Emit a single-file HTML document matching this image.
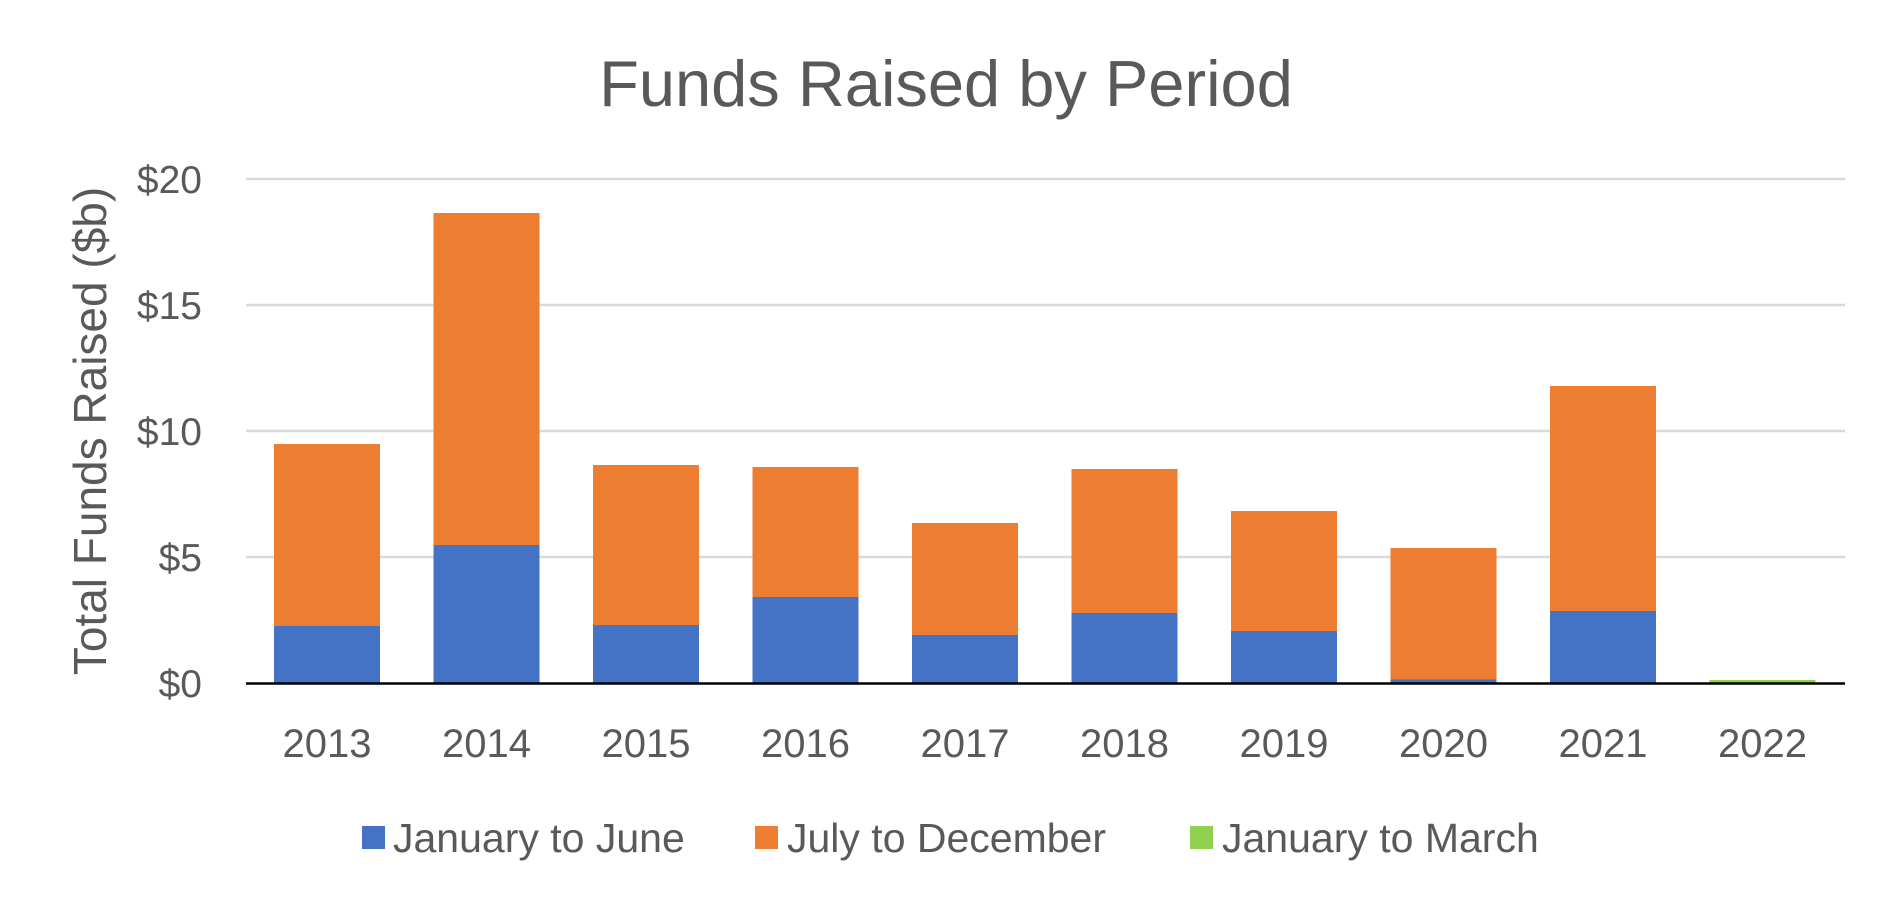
<!DOCTYPE html>
<html><head><meta charset="utf-8"><style>
html,body{margin:0;padding:0;background:#fff;}
svg{display:block;font-family:"Liberation Sans",sans-serif;}
</style></head><body>
<svg width="1902" height="916" viewBox="0 0 1902 916" xmlns="http://www.w3.org/2000/svg">
<rect width="1902" height="916" fill="#fff"/>
<text x="946" y="106" font-size="65" fill="#595959" text-anchor="middle">Funds Raised by Period</text>
<g stroke="#d9d9d9" stroke-width="2.5">
<line x1="246" y1="179" x2="1845" y2="179"/>
<line x1="246" y1="305" x2="1845" y2="305"/>
<line x1="246" y1="431" x2="1845" y2="431"/>
<line x1="246" y1="557" x2="1845" y2="557"/>
</g>
<g font-size="39" fill="#595959" text-anchor="end">
<text x="202" y="193">$20</text>
<text x="202" y="319">$15</text>
<text x="202" y="445">$10</text>
<text x="202" y="571">$5</text>
<text x="202" y="697">$0</text>
</g>
<text transform="translate(106,431) rotate(-90)" font-size="46" fill="#595959" text-anchor="middle">Total Funds Raised ($b)</text>
<g>
<rect x="274" y="444" width="106" height="239" fill="#ed7d31"/><rect x="274" y="626" width="106" height="57" fill="#4472c4"/>
<rect x="433.5" y="213" width="106" height="470" fill="#ed7d31"/><rect x="433.5" y="545" width="106" height="138" fill="#4472c4"/>
<rect x="593" y="465" width="106" height="218" fill="#ed7d31"/><rect x="593" y="625" width="106" height="58" fill="#4472c4"/>
<rect x="752.5" y="467" width="106" height="216" fill="#ed7d31"/><rect x="752.5" y="597" width="106" height="86" fill="#4472c4"/>
<rect x="912" y="523" width="106" height="160" fill="#ed7d31"/><rect x="912" y="635" width="106" height="48" fill="#4472c4"/>
<rect x="1071.5" y="469" width="106" height="214" fill="#ed7d31"/><rect x="1071.5" y="613" width="106" height="70" fill="#4472c4"/>
<rect x="1231" y="511" width="106" height="172" fill="#ed7d31"/><rect x="1231" y="631" width="106" height="52" fill="#4472c4"/>
<rect x="1390.5" y="548" width="106" height="135" fill="#ed7d31"/><rect x="1390.5" y="679.5" width="106" height="3.5" fill="#4472c4"/>
<rect x="1550" y="386" width="106" height="297" fill="#ed7d31"/><rect x="1550" y="611" width="106" height="72" fill="#4472c4"/>
<rect x="1709.5" y="680" width="106" height="3" fill="#92d050"/>
</g>
<line x1="246" y1="683.5" x2="1845" y2="683.5" stroke="#000" stroke-width="2.5"/>
<g font-size="40" fill="#595959" text-anchor="middle">
<text x="327" y="757">2013</text><text x="486.5" y="757">2014</text><text x="646" y="757">2015</text>
<text x="805.5" y="757">2016</text><text x="965" y="757">2017</text><text x="1124.5" y="757">2018</text>
<text x="1284" y="757">2019</text><text x="1443.5" y="757">2020</text><text x="1603" y="757">2021</text>
<text x="1762.5" y="757">2022</text>
</g>
<g font-size="41" fill="#595959">
<rect x="362" y="826" width="23" height="23" fill="#4472c4"/><text x="393" y="852">January to June</text>
<rect x="755" y="826" width="23" height="23" fill="#ed7d31"/><text x="787" y="852">July to December</text>
<rect x="1190" y="826" width="23" height="23" fill="#92d050"/><text x="1222" y="852">January to March</text>
</g>
</svg>
</body></html>
